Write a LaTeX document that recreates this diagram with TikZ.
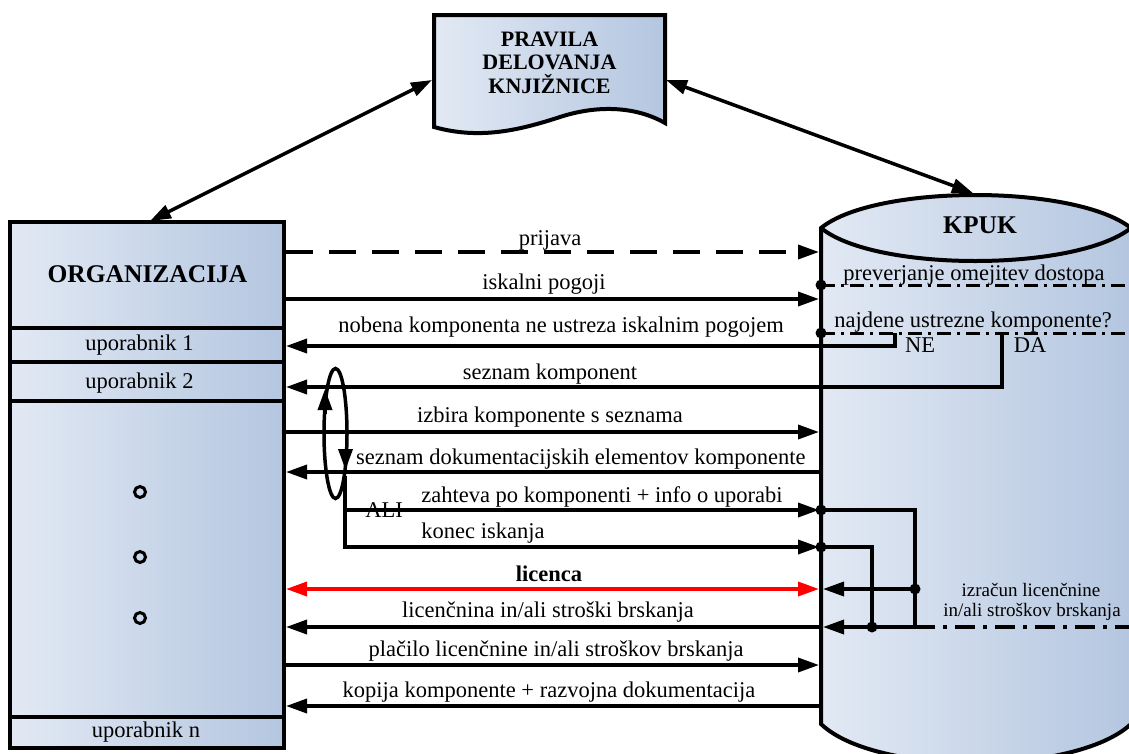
\documentclass[tikz,border=0pt]{standalone}
\usepackage{fontspec}
\setmainfont{Liberation Serif}
\usetikzlibrary{arrows.meta}
\definecolor{shadeL}{HTML}{E2E9F4}
\definecolor{shadeR}{HTML}{B4C6E0}
\begin{document}
\begin{tikzpicture}[x=1pt,y=-1pt,
  >={Triangle[length=21pt,width=14pt]},
  every node/.style={font=\fontsize{22.5}{26}\selectfont, inner sep=0pt},
  boxline/.style={line width=4pt, line join=miter},
  shaded/.style={draw, boxline, left color=shadeL, right color=shadeR},
  flow/.style={line width=3.5pt},
  check/.style={line width=3pt, dash pattern=on 14pt off 6pt on 3pt off 6pt},
  calc/.style={line width=4pt, dash pattern=on 20pt off 8pt on 4pt off 8pt},
  lbl/.style={anchor=base},
  junction/.style={circle, fill=black, minimum size=11pt, inner sep=0pt},
  bigbold/.style={font=\fontsize{25.5}{30}\selectfont\bfseries},
  small/.style={font=\fontsize{19}{21}\selectfont}]
\useasboundingbox (0,0) rectangle (1129,753);

% ---------- rules document ----------
\path[shaded] (434,15) -- (665,15) -- (665,123)
  .. controls (635,106) and (597,105) .. (560,117)
  .. controls (520,130) and (480,140) .. (434,127) -- cycle;
\node[lbl, font=\fontsize{22}{24}\selectfont\bfseries] (t1) at (549.5,46) {PRAVILA};
\node[lbl, font=\fontsize{22}{24}\selectfont\bfseries] (t2) at (549.5,69) {DELOVANJA};
\node[lbl, font=\fontsize{22}{24}\selectfont\bfseries] (t3) at (549.5,93) {KNJIŽNICE};
\coordinate (docL) at (432,80);
\coordinate (docR) at (666,80);

% ---------- organisation ----------
\path[shaded] (10,222) rectangle (284,748);
\draw[boxline] (10,328) -- (284,328);
\draw[boxline] (10,362) -- (284,362);
\draw[boxline] (10,401) -- (284,401);
\draw[boxline] (10,717) -- (284,717);
\node[lbl, bigbold] (org) at (147.5,282) {ORGANIZACIJA};
\node[lbl] (u1) at (139.5,350) {uporabnik 1};
\node[lbl] (u2) at (139.5,388) {uporabnik 2};
\node[lbl] (un) at (146,737) {uporabnik n};
\foreach \y/\n in {492/a,557/b,618/c}
  \draw[line width=3pt] (140,\y) circle (5.5) coordinate (dot\n);
\coordinate (orgTop) at (150,221);

% ---------- KPUK store ----------
\path[shaded] (821,228) .. controls (875,184) and (1075,184) .. (1131,228)
  -- (1131,724) .. controls (1075,776) and (875,776) .. (821,724) -- cycle;
\draw[boxline] (821,228) .. controls (875,272) and (1075,272) .. (1131,228);
\node[lbl, bigbold] (kpuk) at (980,233) {KPUK};
\coordinate (kpukTop) at (973,193);

% links to the rules document
\draw[flow,<->] (docL) -- (orgTop);
\draw[flow,<->] (docR) -- (kpukTop);

% ---------- message rows ----------
\foreach \n/\y in {pri/252,isk/299,nob/346,sez/387,izb/432,dok/472,zah/510,kon/547,lic/589,lcn/627,pla/665,kop/706}{
  \coordinate (o-\n) at (286,\y);
  \coordinate (k-\n) at (819,\y);
}

% checks inside KPUK
\coordinate (chk1L) at (821,285);
\coordinate (chk1R) at (1129,285);
\coordinate (chk2L) at (821,333);
\coordinate (chk2R) at (1129,333);
\draw[check] (chk1L) -- (chk1R);
\draw[check] (chk2L) -- (chk2R);
\node[junction] (jc1) at (chk1L) {};
\node[junction] (jc2) at (chk2L) {};
\node[lbl] (lchk1) at (974,280) {preverjanje omejitev dostopa};
\node[lbl] (lchk2) at (973,327) {najdene ustrezne komponente?};
\coordinate (ne) at (895,333);
\coordinate (da) at (1002,333);
\node[lbl] (lne) at (920,352) {NE};
\node[lbl] (lda) at (1030,352) {DA};

\draw[flow,->,dash pattern=on 27pt off 16pt] (o-pri) -- (k-pri);
\draw[flow,->] (o-isk) -- (k-isk);
\draw[flow,->] (ne) |- (o-nob);
\draw[flow,->] (da) |- (o-sez);
\draw[flow,->] (o-izb) -- (k-izb);
\draw[flow,->] (k-dok) -- (o-dok);

% choice loop
\coordinate (aliTop) at (345,476);
\coordinate (aliZ) at (345,510);
\draw[flow] (335.5,433.5) ellipse [x radius=11.5, y radius=65];
\draw[flow,->] (325,414) -- (325,389);
\draw[flow,->] (345.5,450) -- (345.5,470);
\draw[flow,->] (aliZ) -- (k-zah);
\draw[flow,->] (aliTop) |- (k-kon);
\node[lbl] (lali) at (384,517) {ALI};

% licence
\draw[flow,<->,red] (o-lic) -- (k-lic);

% fee calculation
\coordinate (j1) at (821,510);
\coordinate (j2) at (821,547);
\coordinate (c3) at (915,627);
\coordinate (c2) at (872,627);
\coordinate (c1) at (915,589);
\coordinate (tip1) at (823,589);
\coordinate (tip2) at (823,627);
\coordinate (calcR) at (1129,627);
\draw[flow] (j1) -| (c3);
\draw[flow] (j2) -| (c2);
\draw[calc] (c3) -- (calcR);
\draw[flow,->] (c1) -- (tip1);
\draw[flow,->] (c3) -- (tip2);
\draw[flow,->] (821,627) -- (o-lcn);
\node[junction] (jj1) at (j1) {};
\node[junction] (jj2) at (j2) {};
\node[junction] (jj3) at (c1) {};
\node[junction] (jj4) at (c2) {};
\node[lbl, small] (lcalc1) at (1031,596) {izračun licenčnine};
\node[lbl, small] (lcalc2) at (1032,616) {in/ali stroškov brskanja};

\draw[flow,->] (o-pla) -- (k-pla);
\draw[flow,->] (k-kop) -- (o-kop);

% ---------- row labels ----------
\node[lbl] (l1) at (550,245) {prijava};
\node[lbl] (l2) at (544,289) {iskalni pogoji};
\node[lbl] (l3) at (561,332) {nobena komponenta ne ustreza iskalnim pogojem};
\node[lbl] (l4) at (550,379) {seznam komponent};
\node[lbl] (l5) at (550,422) {izbira komponente s seznama};
\node[anchor=base west] (l6) at (356,464) {seznam dokumentacijskih elementov komponente};
\node[lbl] (l7) at (602,502) {zahteva po komponenti + info o uporabi};
\node[lbl] (l8) at (483,538) {konec iskanja};
\node[lbl, font=\fontsize{22.5}{26}\selectfont\bfseries] (l9) at (549,581) {licenca};
\node[lbl] (l10) at (548,617) {licenčnina in/ali stroški brskanja};
\node[lbl] (l11) at (556,656) {plačilo licenčnine in/ali stroškov brskanja};
\node[lbl] (l12) at (549,697) {kopija komponente + razvojna dokumentacija};
\end{tikzpicture}
\end{document}
